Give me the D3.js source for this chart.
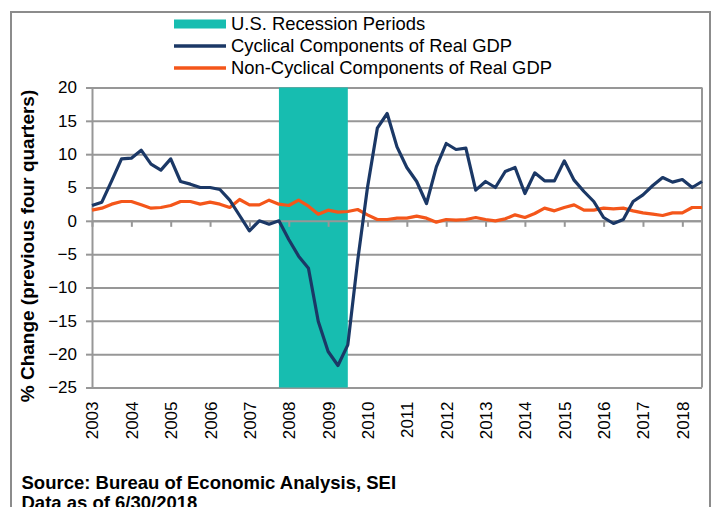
<!DOCTYPE html>
<html>
<head>
<meta charset="utf-8">
<script src="https://cdn.jsdelivr.net/npm/d3@7"></script>
<style>
  body { margin: 0; background: #fff; }
  svg text { font-family: "Liberation Sans", Arial, sans-serif; fill: #000; }
</style>
</head>
<body>
<div id="vis"></div>
<script>
// year labels on the x axis
const years = [2003, 2004, 2005, 2006, 2007, 2008, 2009, 2010, 2011, 2012, 2013, 2014, 2015, 2016, 2017, 2018];
// quarterly categories, 2003Q1 .. 2018Q3
const quarters = years.flatMap(y => ["Q1", "Q2", "Q3", "Q4"].map(q => y + q)).slice(0, 63);

// % change vs previous four quarters
const cyclical = [
    2.3, 2.8, 6.0, 9.3, 9.4, 10.6, 8.5, 7.6, 9.3, 5.9,
    5.5, 5.0, 5.0, 4.7, 3.1, 0.8, -1.5, 0.0, -0.5, 0.0,
    -2.8, -5.3, -7.1, -15.1, -19.6, -21.7, -18.6, -6.0, 5.0, 13.9,
    16.1, 11.1, 8.0, 5.9, 2.6, 8.1, 11.6, 10.7, 10.9, 4.6,
    5.9, 5.0, 7.4, 8.0, 4.1, 7.2, 6.0, 6.0, 9.0, 6.1,
    4.4, 2.9, 0.5, -0.4, 0.2, 2.9, 3.9, 5.3, 6.5, 5.8,
    6.2, 5.0, 5.9
];
const nonCyclical = [
    1.6, 1.9, 2.5, 2.9, 2.9, 2.4, 1.9, 2.0, 2.3, 2.9,
    2.9, 2.5, 2.8, 2.5, 2.0, 3.2, 2.4, 2.4, 3.1, 2.5,
    2.3, 3.1, 2.2, 1.0, 1.6, 1.3, 1.4, 1.7, 0.9, 0.2,
    0.2, 0.4, 0.4, 0.7, 0.4, -0.2, 0.2, 0.1, 0.2, 0.5,
    0.2, 0.0, 0.3, 0.9, 0.5, 1.1, 1.9, 1.5, 2.0, 2.4,
    1.6, 1.6, 1.9, 1.8, 1.9, 1.5, 1.2, 1.0, 0.8, 1.2,
    1.2, 2.0, 2.0
];
// recession shading, first and last quarter
const recession = ["2007Q4", "2009Q3"];
const yTicks = [20, 15, 10, 5, 0, -5, -10, -15, -20, -25];
const legendNames = ["U.S. Recession Periods", "Cyclical Components of Real GDP", "Non-Cyclical Components of Real GDP"];

const COLOR_REC = "#17bdb0";
const COLOR_CYC = "#1b3866";
const COLOR_NON = "#f4561a";
const COLOR_GRID = "#979797";

const width = 711, height = 507;
const plot = { left: 92, right: 702, top: 87.5, bottom: 387.5 };

const svg = d3.select("#vis").append("svg")
    .attr("width", width)
    .attr("height", height);

// outer frame
svg.append("rect")
    .attr("x", 11).attr("y", 12)
    .attr("width", 699).attr("height", 600)
    .attr("fill", "none")
    .attr("stroke", "#8c8c8c")
    .attr("stroke-width", 2);

const x = d3.scalePoint().domain(quarters).range([plot.left, plot.right]);
const y = d3.scaleLinear().domain([-25, 20]).range([plot.bottom, plot.top]);
const yearTicks = quarters.filter(q => q.endsWith("Q1"));

// gridlines
const grid = svg.append("g")
    .attr("transform", `translate(${plot.left},0)`)
    .call(d3.axisLeft(y).tickValues(yTicks).tickSize(-(plot.right - plot.left)).tickFormat(""));
grid.select(".domain").remove();
grid.selectAll("line").attr("stroke", COLOR_GRID).attr("stroke-width", 2);

// right side of the plot area
svg.append("line")
    .attr("x1", plot.right).attr("x2", plot.right)
    .attr("y1", plot.top).attr("y2", plot.bottom)
    .attr("stroke", COLOR_GRID).attr("stroke-width", 2);

// recession band
svg.append("rect")
    .attr("x", x(recession[0]))
    .attr("y", plot.top)
    .attr("width", x(recession[1]) - x(recession[0]))
    .attr("height", plot.bottom - plot.top)
    .attr("fill", COLOR_REC);

// x axis crossing at zero
const g_xaxis = svg.append("g")
    .attr("transform", `translate(0,${y(0)})`)
    .call(d3.axisBottom(x).tickValues(yearTicks).tickSize(6).tickSizeOuter(0).tickFormat(""));
g_xaxis.selectAll("path, line").attr("stroke", COLOR_GRID).attr("stroke-width", 2);

// year labels at the bottom
const g_xlabels = svg.append("g")
    .attr("transform", `translate(0,${plot.bottom})`)
    .call(d3.axisBottom(x).tickValues(yearTicks).tickSize(0).tickFormat(d => d.slice(0, 4)));
g_xlabels.select(".domain").remove();
g_xlabels.selectAll("text")
    .attr("transform", "rotate(-90)")
    .attr("x", -14).attr("y", 0).attr("dy", "0.35em")
    .attr("text-anchor", "end")
    .attr("font-size", 17);

// y axis
const g_yaxis = svg.append("g")
    .attr("transform", `translate(${plot.left},0)`)
    .call(d3.axisLeft(y).tickValues(yTicks).tickSize(6).tickSizeOuter(0).tickPadding(9));
g_yaxis.selectAll("path, line").attr("stroke", COLOR_GRID).attr("stroke-width", 2);
g_yaxis.selectAll("text").attr("font-size", 17);

// series lines
const line = d3.line()
    .x((d, i) => x(quarters[i]))
    .y(d => y(d));

svg.append("path").datum(nonCyclical)
    .attr("d", line)
    .attr("fill", "none")
    .attr("stroke", COLOR_NON)
    .attr("stroke-width", 3.2)
    .attr("stroke-linejoin", "round");

svg.append("path").datum(cyclical)
    .attr("d", line)
    .attr("fill", "none")
    .attr("stroke", COLOR_CYC)
    .attr("stroke-width", 3.2)
    .attr("stroke-linejoin", "round");

// legend
const legend = svg.append("g").attr("transform", "translate(174,0)");
const rowY = [24, 46, 68];
legend.append("rect")
    .attr("x", 0).attr("y", rowY[0] - 4.5)
    .attr("width", 52).attr("height", 9)
    .attr("fill", COLOR_REC);
[COLOR_CYC, COLOR_NON].forEach((c, i) => {
    legend.append("line")
        .attr("x1", 0).attr("x2", 52)
        .attr("y1", rowY[i + 1]).attr("y2", rowY[i + 1])
        .attr("stroke", c).attr("stroke-width", 3.5);
});
legend.selectAll("text.leg").data(legendNames).join("text")
    .attr("class", "leg")
    .attr("x", 57)
    .attr("y", (d, i) => rowY[i])
    .attr("dy", "0.35em")
    .attr("font-size", 18.4)
    .text(d => d);

// y axis title
svg.append("text")
    .attr("transform", "translate(27.7,246) rotate(-90)")
    .attr("dy", "0.35em")
    .attr("text-anchor", "middle")
    .attr("font-size", 19)
    .attr("font-weight", "bold")
    .text("% Change (previous four quarters)");

// source notes (second line runs off the bottom edge, as in the original)
svg.append("text")
    .attr("x", 21.5).attr("y", 489)
    .attr("font-size", 18.5)
    .attr("font-weight", "bold")
    .text("Source: Bureau of Economic Analysis, SEI");
svg.append("text")
    .attr("x", 21.5).attr("y", 509)
    .attr("font-size", 18.5)
    .attr("font-weight", "bold")
    .text("Data as of 6/30/2018");
</script>
</body>
</html>
